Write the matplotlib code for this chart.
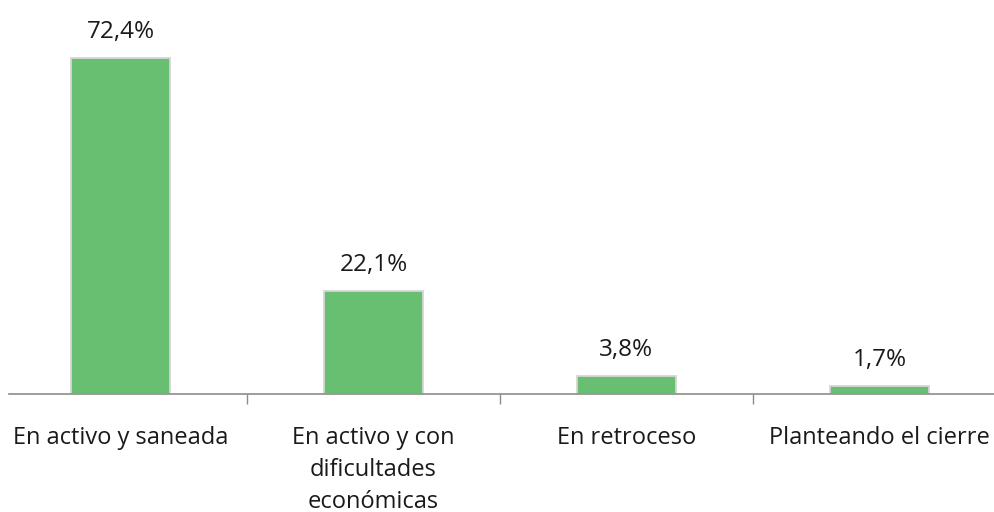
import matplotlib
matplotlib.use("Agg")
import matplotlib.pyplot as plt

categories = ["En activo y saneada", "En activo y con\ndificultades\neconómicas", "En retroceso", "Planteando el cierre"]
values = [72.4, 22.1, 3.8, 1.7]
labels = ["72,4%", "22,1%", "3,8%", "1,7%"]

plt.rcParams['font.family'] = ['Open Sans', 'DejaVu Sans']

fig = plt.figure(figsize=(9.95, 5.12), dpi=100)
ax = fig.add_axes([9/995, (512-394)/512, 1 - 9/995, 394/512])

x = list(range(len(categories)))
bars = ax.bar(x, values, width=0.395, color="#69bf71", edgecolor="#d6d6d6", linewidth=1.3, zorder=2)

for xi, v, lab in zip(x, values, labels):
    ax.annotate(lab, (xi, v), xytext=(0, 14), textcoords="offset pixels",
                ha="center", va="bottom", fontsize=17.5, color="#1a1a1a")

ax.set_xlim((9-120.5)/253, (995-120.5)/253)
ax.set_ylim(0, 394/4.64)

ax.set_xticks([0.5, 1.5, 2.5])
ax.set_xticklabels([])
ax.tick_params(axis="x", length=7, width=1, color="#8c8c8c", direction="out")
ax.set_yticks([])
for s in ["top", "right", "left"]:
    ax.spines[s].set_visible(False)
ax.spines["bottom"].set_color("#8c8c8c")
ax.spines["bottom"].set_linewidth(1.2)

for xi, cat in zip(x, categories):
    ax.text(xi, -0.08, cat, transform=ax.get_xaxis_transform(), ha="center", va="top",
            fontsize=17, color="#1a1a1a", linespacing=1.45)

fig.savefig("out.png", dpi=100)
